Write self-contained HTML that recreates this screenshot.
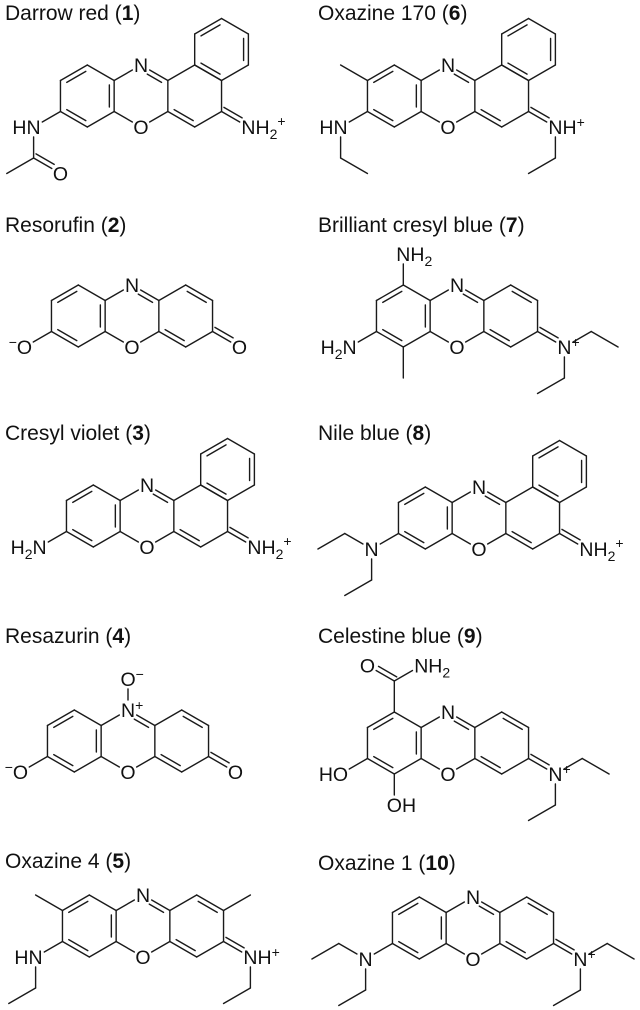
<!DOCTYPE html>
<html><head><meta charset="utf-8">
<style>
html,body{margin:0;padding:0;background:#fff;}
svg{display:block;}
.t{font-family:"Liberation Sans",sans-serif;font-size:21px;fill:#111;}
.a{font-family:"Liberation Sans",sans-serif;font-size:19.5px;fill:#111;}
#b line{stroke:#1a1a1a;stroke-width:1.4;stroke-linecap:round;}
</style></head><body>
<svg width="640" height="1010" viewBox="0 0 640 1010" xmlns="http://www.w3.org/2000/svg">
<g id="b"></g>
<text class="t" x="5" y="20">Darrow red (<tspan font-weight="bold">1</tspan>)</text>
<text class="t" x="318" y="20">Oxazine 170 (<tspan font-weight="bold">6</tspan>)</text>
<text class="t" x="5" y="232">Resorufin (<tspan font-weight="bold">2</tspan>)</text>
<text class="t" x="318" y="232">Brilliant cresyl blue (<tspan font-weight="bold">7</tspan>)</text>
<text class="t" x="5" y="440">Cresyl violet (<tspan font-weight="bold">3</tspan>)</text>
<text class="t" x="318" y="440">Nile blue (<tspan font-weight="bold">8</tspan>)</text>
<text class="t" x="5" y="643">Resazurin (<tspan font-weight="bold">4</tspan>)</text>
<text class="t" x="318" y="643">Celestine blue (<tspan font-weight="bold">9</tspan>)</text>
<text class="t" x="5" y="868">Oxazine 4 (<tspan font-weight="bold">5</tspan>)</text>
<text class="t" x="318" y="870">Oxazine 1 (<tspan font-weight="bold">10</tspan>)</text>

<g class="a" text-anchor="middle">
<text x="141" y="72">N</text><text x="141" y="134">O</text>
<text x="448" y="72">N</text><text x="448" y="134">O</text>
<text x="132" y="292">N</text><text x="132" y="354">O</text>
<text x="457" y="292">N</text><text x="457" y="354">O</text>
<text x="147" y="492">N</text><text x="147" y="554">O</text>
<text x="479" y="494">N</text><text x="479" y="556">O</text>
<text x="128" y="779">O</text>
<text x="448" y="719">N</text><text x="448" y="781">O</text>
<text x="143" y="902">N</text><text x="143" y="964">O</text>
<text x="473" y="904">N</text><text x="473" y="966">O</text>
<text x="60.4" y="180.5">O</text>
<text x="239.4" y="354">O</text>
<text x="235.4" y="779">O</text>
<text x="371.6" y="556">N</text>
<text x="367.4" y="672.5">O</text>
<text x="365.6" y="966">N</text>
</g>
<g class="a">
<text x="40.6" y="134" text-anchor="end">HN</text>
<text x="241.4" y="134">NH<tspan font-size="14" dy="5">2</tspan><tspan font-size="14" dy="-13">+</tspan></text>
<text x="347.6" y="134" text-anchor="end">HN</text>
<text x="548.4" y="134">NH<tspan font-size="14" dy="-7">+</tspan></text>
<text x="32.1" y="354" text-anchor="end"><tspan font-size="14" dy="-7">−</tspan><tspan dy="7">O</tspan></text>
<text x="396.3" y="261">NH<tspan font-size="14" dy="5">2</tspan></text>
<text x="356.6" y="354" text-anchor="end">H<tspan font-size="14" dy="5">2</tspan><tspan dy="-5">N</tspan></text>
<text x="557.4" y="354">N<tspan font-size="14" dy="-7">+</tspan></text>
<text x="46.6" y="554" text-anchor="end">H<tspan font-size="14" dy="5">2</tspan><tspan dy="-5">N</tspan></text>
<text x="247.4" y="554">NH<tspan font-size="14" dy="5">2</tspan><tspan font-size="14" dy="-13">+</tspan></text>
<text x="579.4" y="556">NH<tspan font-size="14" dy="5">2</tspan><tspan font-size="14" dy="-13">+</tspan></text>
<text x="121" y="717">N<tspan font-size="14" dy="-7">+</tspan></text>
<text x="120.5" y="686">O<tspan font-size="14" dy="-7">−</tspan></text>
<text x="28.1" y="779" text-anchor="end"><tspan font-size="14" dy="-7">−</tspan><tspan dy="7">O</tspan></text>
<text x="414.2" y="672.5">NH<tspan font-size="14" dy="5">2</tspan></text>
<text x="348.1" y="781" text-anchor="end">HO</text>
<text x="386.8" y="812">OH</text>
<text x="548.4" y="781">N<tspan font-size="14" dy="-7">+</tspan></text>
<text x="42.6" y="964" text-anchor="end">HN</text>
<text x="243.4" y="964">NH<tspan font-size="14" dy="-7">+</tspan></text>
<text x="573.4" y="966">N<tspan font-size="14" dy="-7">+</tspan></text>
</g>
</svg>
<script>
const S=31,W=S*Math.sqrt(3)/2;
let out='',labs=[];
const P=(p,a,l=S)=>[p[0]+l*Math.cos(a*Math.PI/180),p[1]+l*Math.sin(a*Math.PI/180)];
function hex(c){return [[c[0],c[1]-S],[c[0]+W,c[1]-S/2],[c[0]+W,c[1]+S/2],[c[0],c[1]+S],[c[0]-W,c[1]+S/2],[c[0]-W,c[1]-S/2]];}
function lab(p){labs.push(p);return p;}
function near(p){return labs.some(q=>Math.hypot(p[0]-q[0],p[1]-q[1])<1);}
function seg(p,q,a,b){const dx=q[0]-p[0],dy=q[1]-p[1],l=Math.hypot(dx,dy),ux=dx/l,uy=dy/l;
 out+=`<line x1="${(p[0]+ux*a).toFixed(2)}" y1="${(p[1]+uy*a).toFixed(2)}" x2="${(q[0]-ux*b).toFixed(2)}" y2="${(q[1]-uy*b).toFixed(2)}"/>`;}
const R=10;
function L(p,q){seg(p,q,near(p)?R:0,near(q)?R:0);}
function Dbl(p,q,c,inner=true){L(p,q);const dx=q[0]-p[0],dy=q[1]-p[1],l=Math.hypot(dx,dy);let nx=-dy/l,ny=dx/l;
 const mx=(p[0]+q[0])/2-c[0],my=(p[1]+q[1])/2-c[1];if(nx*mx+ny*my>0){nx=-nx;ny=-ny;}
 const o=4.8,p2=[p[0]+nx*o,p[1]+ny*o],q2=[q[0]+nx*o,q[1]+ny*o];
 const d=inner?4.5:0;seg(p2,q2,near(p)?R:d,near(q)?R:d);}
function core(cx,cy,naph){
 const ac=[cx-2*W,cy],bc=[cx,cy],cc=[cx+2*W,cy];
 const A=hex(ac),B=hex(bc),C=hex(cc);
 lab(B[0]);lab(B[3]);
 return {A,B,C,ac,bc,cc,naph,cx,cy};
}
function draw(m){const {A,B,C,ac,bc,cc}=m;
 L(A[0],A[1]);Dbl(A[1],A[2],ac);L(A[2],A[3]);Dbl(A[3],A[4],ac);L(A[4],A[5]);Dbl(A[5],A[0],ac);
 Dbl(B[0],B[1],bc);L(B[0],B[5]);L(B[3],B[4]);L(B[3],B[2]);
 if(m.naph)L(C[0],C[1]);else Dbl(C[0],C[1],cc);
 L(C[1],C[2]);L(C[2],C[3]);Dbl(C[3],C[4],cc);L(C[4],C[5]);L(C[5],C[0]);
 if(m.naph){const dc=[m.cx+3*W,m.cy-1.5*S],D=hex(dc);
  Dbl(D[3],D[4],dc);L(D[4],D[5]);Dbl(D[5],D[0],dc);L(D[0],D[1]);Dbl(D[1],D[2],dc);L(D[2],D[3]);}
}
function exo(m){const n=lab(P(m.C[2],30));draw(m);Dbl(m.C[2],n,m.C[1],false);return n;}
function leftN(m){return lab(P(m.A[4],150));}
function NEt2L(n){const a=P(n,210);L(n,a);L(a,P(a,150));const b=P(n,90);L(n,b);L(b,P(b,150));}
function NEt2R(n){const a=P(n,-30);L(n,a);L(a,P(a,30));const b=P(n,90);L(n,b);L(b,P(b,150));}

{let m=core(141,96,true);let hn=leftN(m);let c=P(hn,90);let o=lab(P(c,30));exo(m);
 L(m.A[4],hn);L(hn,c);L(c,P(c,150));Dbl(c,o,hn,false);}
{let m=core(448,96,true);let hn=leftN(m);let n=exo(m);
 L(m.A[4],hn);let a=P(hn,90);L(hn,a);L(a,P(a,30));
 L(m.A[5],P(m.A[5],210));let b=P(n,90);L(n,b);L(b,P(b,150));}
{let m=core(132,316,false);let o=leftN(m);exo(m);L(m.A[4],o);}
{let m=core(457,316,false);let o=leftN(m);let nh=lab(P(m.A[0],-90));let n=exo(m);
 L(m.A[4],o);L(m.A[0],nh);L(m.A[3],P(m.A[3],90));NEt2R(n);}
{let m=core(147,516,true);let o=leftN(m);exo(m);L(m.A[4],o);}
{let m=core(479,518,true);let n=leftN(m);exo(m);L(m.A[4],n);NEt2L(n);}
{let m=core(128,741,false);let o=leftN(m);let ox=lab(P(m.B[0],-90));exo(m);L(m.A[4],o);L(m.B[0],ox);}
{let m=core(448,743,false);let ho=leftN(m);let oh=lab(P(m.A[3],90));let c=P(m.A[0],-90);
 let o=lab(P(c,210));let nh=lab(P(c,-30));let n=exo(m);
 L(m.A[4],ho);L(m.A[3],oh);L(m.A[0],c);Dbl(c,o,nh,false);L(c,nh);NEt2R(n);}
{let m=core(143,926,false);let hn=leftN(m);let n=exo(m);
 L(m.A[4],hn);let a=P(hn,90);L(hn,a);L(a,P(a,150));
 L(m.A[5],P(m.A[5],210));L(m.C[1],P(m.C[1],-30));
 let b=P(n,90);L(n,b);L(b,P(b,150));}
{let m=core(473,928,false);let nl=leftN(m);let n=exo(m);L(m.A[4],nl);NEt2L(nl);NEt2R(n);}

document.getElementById('b').innerHTML=out;
</script>
</body></html>
